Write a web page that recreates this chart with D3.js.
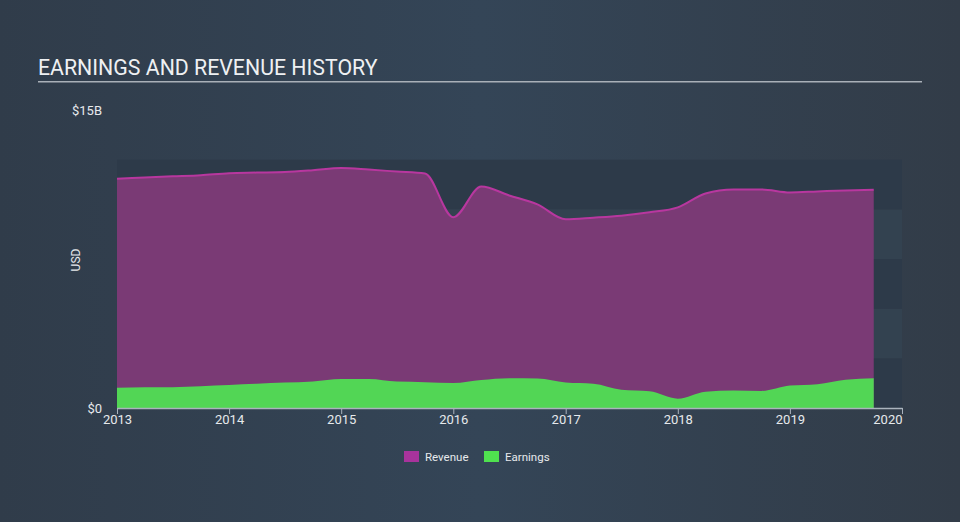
<!DOCTYPE html>
<html><head><meta charset="utf-8">
<script src="https://cdn.jsdelivr.net/npm/d3@7"></script>
<style>body{margin:0;background:#323f4e;}svg{display:block;font-family:Roboto,"Open Sans",sans-serif;}</style>
</head><body>
<svg id="c" width="960" height="522"></svg>
<script>
const dates = ["2013-01-01","2013-04-01","2013-07-01","2013-10-01","2014-01-01","2014-04-01","2014-07-01","2014-10-01",
"2015-01-01","2015-04-01","2015-07-01","2015-10-01","2016-01-01","2016-04-01","2016-07-01","2016-10-01",
"2017-01-01","2017-04-01","2017-07-01","2017-10-01","2018-01-01","2018-04-01","2018-07-01","2018-10-01",
"2019-01-01","2019-04-01","2019-07-01","2019-10-01"];
const revenue = [11.54,11.6,11.66,11.72,11.82,11.85,11.88,11.97,12.08,12.0,11.9,11.8,9.6,11.15,10.7,10.25,
9.5,9.58,9.68,9.85,10.1,10.8,11.0,11.0,10.85,10.9,10.95,10.98];
const earnings = [1.02,1.04,1.05,1.1,1.16,1.22,1.28,1.34,1.46,1.46,1.33,1.3,1.26,1.41,1.5,1.48,
1.28,1.22,0.92,0.84,0.47,0.82,0.88,0.86,1.13,1.2,1.42,1.5];
const xTicks = [2013,2014,2015,2016,2017,2018,2019,2020];
const yTickLabels = ["$0","$15B"];
const yTickValues = [0,15];

const svg = d3.select("#c");
const W = 960, H = 522;
const defs = svg.append("defs");
const g1 = defs.append("linearGradient").attr("id","bg").attr("x1","0").attr("x2","1").attr("y1","0").attr("y2","0");
g1.append("stop").attr("offset","0").attr("stop-color","#303c4a");
g1.append("stop").attr("offset","0.5").attr("stop-color","#344557");
g1.append("stop").attr("offset","1").attr("stop-color","#323c48");
svg.append("rect").attr("width",W).attr("height",H).attr("fill","url(#bg)");

const parse = d3.timeParse("%Y-%m-%d");
const data = dates.map((d,i)=>({date:parse(d), rev:revenue[i], earn:earnings[i]}));

const x = d3.scaleTime().domain([new Date(2013,0,1), new Date(2020,0,1)]).range([117,902]);
const y = d3.scaleLinear().domain([0,15]).range([408,110]);

// bands
const bandEdges = [0,2.5,5,7.5,10,12.5];
for (let i=0;i<5;i++){
  svg.append("rect").attr("x",117).attr("width",902-117)
    .attr("y",y(bandEdges[i+1])).attr("height",y(bandEdges[i])-y(bandEdges[i+1]))
    .attr("fill", i%2===0 ? "#2d3a49" : "#334250");
}

// title
svg.append("text").attr("x",38).attr("y",75).attr("fill","#eef0f2").attr("font-size",21.3).text("EARNINGS AND REVENUE HISTORY");
svg.append("rect").attr("x",38).attr("y",81).attr("width",884).attr("height",1.5).attr("fill","#a9b0b8");

const curve = d3.curveMonotoneX;
svg.append("path").datum(data).attr("fill","#7a3a75")
  .attr("d", d3.area().curve(curve).x(d=>x(d.date)).y0(y(0)).y1(d=>y(d.rev)));
svg.append("path").datum(data).attr("fill","none").attr("stroke","#b8379f").attr("stroke-width",2)
  .attr("d", d3.line().curve(curve).x(d=>x(d.date)).y(d=>y(d.rev)));
svg.append("path").datum(data).attr("fill","#52d655")
  .attr("d", d3.area().curve(curve).x(d=>x(d.date)).y0(y(0)).y1(d=>y(d.earn)));

// x axis
const xa = svg.append("g").attr("transform","translate(0,408)")
  .call(d3.axisBottom(x).tickValues(xTicks.map(t=>new Date(t,0,1))).tickFormat(d3.timeFormat("%Y")).tickSize(6).tickSizeOuter(0));
xa.select(".domain").attr("stroke","#aab3bd").attr("stroke-width",1.5);
xa.selectAll(".tick line").attr("stroke","#aab3bd");
xa.selectAll(".tick text").attr("fill","#e6e9ec").attr("font-size",13).attr("font-family","Roboto,sans-serif").attr("dy","0.5em");
xa.selectAll(".tick text").filter((d,i,n)=>i===n.length-1).attr("text-anchor","end");

// y labels
yTickValues.forEach((v,i)=>{
  svg.append("text").attr("x",102).attr("y",y(v)).attr("dy","0.35em").attr("text-anchor","end")
    .attr("fill","#e6e9ec").attr("font-size",13).text(yTickLabels[i]);
});
svg.append("text").attr("transform","translate(80,260) rotate(-90)").attr("text-anchor","middle")
  .attr("fill","#e6e9ec").attr("font-size",12).text("USD");

// legend
const legend = [{name:"Revenue", c:"#a8339c", x:404},{name:"Earnings", c:"#4fe14f", x:484}];
legend.forEach(l=>{
  svg.append("rect").attr("x",l.x).attr("y",451).attr("width",15).attr("height",11).attr("fill",l.c);
  svg.append("text").attr("x",l.x+21).attr("y",456.5).attr("dy","0.35em").attr("fill","#e6e9ec").attr("font-size",11.5).text(l.name);
});
</script>
</body></html>
